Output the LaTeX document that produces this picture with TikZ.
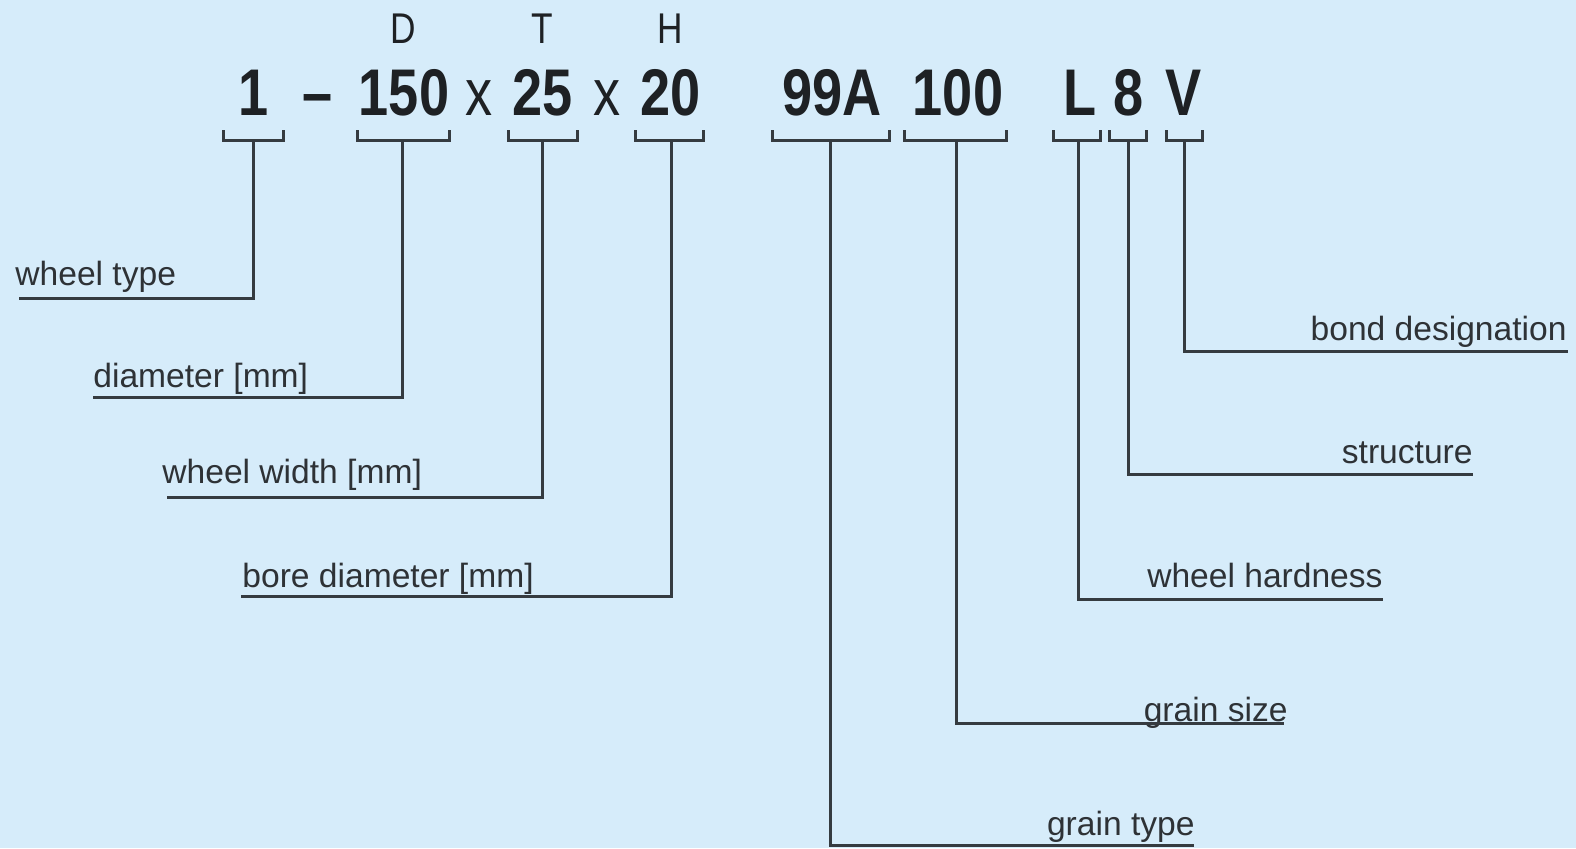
\documentclass[tikz,border=0pt]{standalone}
\usepackage{fontspec}
\setmainfont{Liberation Sans}
\newfontfamily\narrowfont[FakeStretch=0.82]{Liberation Sans}
\definecolor{bgblue}{HTML}{D6ECFA}
\definecolor{linegray}{HTML}{353B40}
\definecolor{textdark}{HTML}{1E2124}
\definecolor{labeltext}{HTML}{2E3236}
\tikzset{
  bigtok/.style={inner sep=0pt, anchor=base, text=textdark, font=\narrowfont\bfseries\fontsize{33pt}{33pt}\selectfont},
  timestok/.style={inner sep=0pt, anchor=base, text=textdark, font=\narrowfont\fontsize{33pt}{33pt}\selectfont},
  dimtok/.style={inner sep=0pt, anchor=base, text=textdark, font=\narrowfont\fontsize{21.5pt}{21.5pt}\selectfont},
  lbl/.style={inner sep=0pt, text=labeltext, font=\fontsize{16.8pt}{16.8pt}\selectfont},
  conn/.style={draw=linegray, line width=1.5pt},
}
\newcommand{\brk}[4]{%
  \draw[conn] (#2,130) -- (#2,140) -- (#3,140) -- (#3,130);
  \coordinate (#1) at (#4,140);}
\begin{document}
\begin{tikzpicture}[x=0.5pt,y=-0.5pt]
\fill[bgblue] (0,0) rectangle (1576,848);
\useasboundingbox (0,0) rectangle (1576,848);

% dimension letters
\node[dimtok] (dD) at (403,43) {D};
\node[dimtok] (dT) at (542,43) {T};
\node[dimtok] (dH) at (670,43) {H};

% designation tokens
\node[bigtok] (t1) at (254,115) {1};
\node[bigtok] (tdash) at (318,115) {–};
\node[bigtok] (t150) at (404,115) {150};
\node[timestok] (tx1) at (479,115) {x};
\node[bigtok] (t25) at (543,115) {25};
\node[timestok] (tx2) at (607,115) {x};
\node[bigtok] (t20) at (671,115) {20};
\node[bigtok] (t99A) at (832,115) {99A};
\node[bigtok] (t100) at (958,115) {100};
\node[bigtok] (tL) at (1080,115) {L};
\node[bigtok] (t8) at (1129,115) {8};
\node[bigtok] (tV) at (1184,115) {V};

% brackets
\brk{b1}{223}{283}{253}
\brk{b150}{357}{449}{402}
\brk{b25}{508}{577}{542}
\brk{b20}{635}{703}{671}
\brk{b99A}{772}{889}{830}
\brk{b100}{904}{1006}{956}
\brk{bL}{1053}{1100}{1078}
\brk{b8}{1109}{1146}{1128}
\brk{bV}{1166}{1202}{1184}

% left labels
\node[lbl, anchor=base west] (lwt) at (15,285) {wheel type};
\coordinate (uwt) at (19,298);
\draw[conn] (b1) |- (uwt);

\node[lbl, anchor=base west] (ldia) at (93,387) {diameter [mm]};
\coordinate (udia) at (93,397);
\draw[conn] (b150) |- (udia);

\node[lbl, anchor=base west] (lww) at (162,483) {wheel width [mm]};
\coordinate (uww) at (167,497);
\draw[conn] (b25) |- (uww);

\node[lbl, anchor=base west] (lbd) at (242,587) {bore diameter [mm]};
\coordinate (ubd) at (241,596);
\draw[conn] (b20) |- (ubd);

% right labels
\node[lbl, anchor=base east] (lbond) at (1567,340) {bond designation};
\coordinate (ubond) at (1568,351);
\draw[conn] (bV) |- (ubond);

\node[lbl, anchor=base east] (lstr) at (1473,463) {structure};
\coordinate (ustr) at (1473,474);
\draw[conn] (b8) |- (ustr);

\node[lbl, anchor=base east] (lhard) at (1383,587) {wheel hardness};
\coordinate (uhard) at (1383,599);
\draw[conn] (bL) |- (uhard);

\node[lbl, anchor=base east] (lgs) at (1288,721) {grain size};
\coordinate (ugs) at (1284,723);
\draw[conn] (b100) |- (ugs);

\node[lbl, anchor=base east] (lgt) at (1195,835) {grain type};
\coordinate (ugt) at (1194,845);
\draw[conn] (b99A) |- (ugt);
\end{tikzpicture}
\end{document}
